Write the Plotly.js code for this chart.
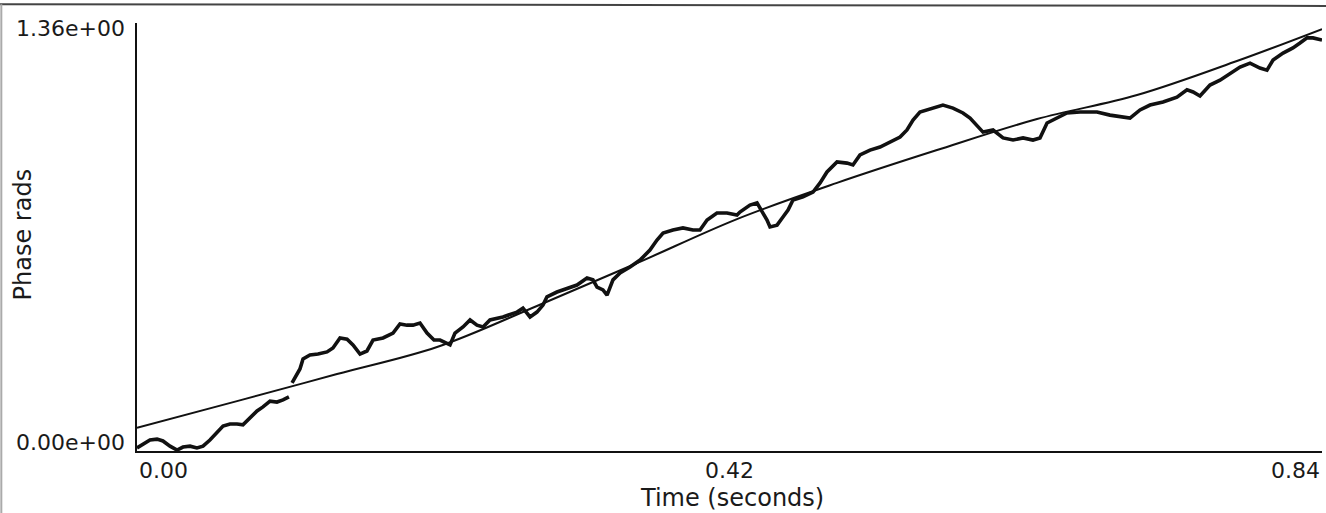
<!DOCTYPE html>
<html>
<head>
<meta charset="utf-8">
<script src="https://cdn.plot.ly/plotly-3.0.1.min.js"></script>
<style>
html,body{margin:0;padding:0;background:#fff;}
#chart{width:1326px;height:513px;}
</style>
</head>
<body>
<div id="chart"></div>
<script>
// Measured phase (rad) vs time (s); null marks the visible break in the trace
const timeSec = [
  0.0000,0.0043,0.0092,0.0142,0.0184,0.0234,0.0284,0.0326,0.0376,0.0425,0.0468,0.0517,0.0567,0.0610,0.0659,0.0709,0.0751,0.0801,0.0851,0.0893,0.0943,0.0992,0.1035,0.1077,
  0.1088,
  0.1099,0.1127,0.1155,0.1177,0.1226,0.1283,0.1347,0.1389,0.1439,0.1489,0.1531,0.1581,0.1630,0.1673,0.1744,0.1815,0.1864,0.1914,0.1956,0.2006,0.2056,0.2105,
  0.2148,0.2219,0.2254,0.2311,0.2361,0.2410,0.2453,0.2502,0.2594,0.2694,0.2736,0.2786,0.2835,0.2878,0.2906,0.2977,0.3048,0.3119,0.3190,0.3232,0.3261,0.3303,0.3332,0.3374,0.3424,0.3495,0.3566,0.3636,0.3686,0.3729,0.3799,0.3870,0.3941,0.3991,0.4041,0.4111,0.4182,0.4253,
  0.4274,0.4345,0.4395,0.4437,0.4466,0.4487,0.4537,0.4579,0.4615,0.4650,0.4721,0.4792,0.4842,0.4891,0.4962,0.5033,0.5075,0.5125,0.5196,0.5267,0.5338,0.5409,0.5458,0.5501,0.5550,0.5600,0.5643,0.5713,0.5784,0.5855,0.5905,0.5954,0.5997,0.6068,0.6139,0.6210,0.6281,0.6351,
  0.6401,0.6451,0.6522,0.6592,0.6685,0.6805,0.6897,0.6989,0.7039,0.7110,0.7181,0.7273,0.7372,0.7443,0.7486,0.7535,0.7606,0.7677,0.7748,0.7819,0.7890,0.7960,0.8010,0.8053,0.8124,0.8194,0.8244,0.8294,0.8336,0.8400
];
const phaseRad = [
  0.010,0.023,0.036,0.039,0.033,0.016,0.003,0.013,0.016,0.010,0.016,0.036,0.063,0.082,0.089,0.089,0.086,0.109,0.132,0.145,0.164,0.161,0.168,0.178,
  null,
  0.224,0.250,0.270,0.303,0.316,0.319,0.326,0.339,0.372,0.368,0.349,0.319,0.329,0.365,0.372,0.388,0.418,0.414,0.414,0.421,0.388,0.365,
  0.365,0.349,0.388,0.408,0.431,0.414,0.408,0.431,0.441,0.457,0.470,0.441,0.457,0.480,0.507,0.523,0.536,0.546,0.569,0.563,0.539,0.530,0.513,0.563,0.586,0.605,0.628,0.661,0.694,0.717,0.727,0.734,0.727,0.727,0.760,0.783,0.783,0.776,
  0.786,0.809,0.816,0.786,0.760,0.737,0.743,0.770,0.793,0.826,0.836,0.852,0.882,0.918,0.951,0.947,0.941,0.974,0.990,1.000,1.016,1.033,1.056,1.089,1.115,1.122,1.128,1.138,1.128,1.112,1.095,1.072,1.049,1.056,1.030,1.023,1.030,1.023,
  1.030,1.079,1.095,1.112,1.115,1.115,1.105,1.099,1.095,1.122,1.138,1.148,1.164,1.188,1.181,1.168,1.204,1.220,1.243,1.263,1.276,1.260,1.253,1.286,1.309,1.326,1.342,1.359,1.359,1.352
];
// Smooth fitted curve
const fitTime  = [0.0000,0.0709,0.1418,0.2127,0.2835,0.3544,0.4253,0.4962,0.5671,0.6380,0.7089,0.7797,0.8400];
const fitPhase = [0.076,0.164,0.253,0.342,0.477,0.618,0.763,0.882,0.990,1.092,1.171,1.283,1.388];

// Axis labels
const yTickVals = [0, 1.36];
const yTickText = ['0.00e+00', '1.36e+00'];
const xTickVals = [0, 0.42, 0.84];
const xTickText = ['0.00', '0.42', '0.84'];
const xTitle = 'Time (seconds)';
const yTitle = 'Phase rads';

const FONT = 'DejaVu Sans, Liberation Sans, Arial, sans-serif';
const INK = '#1a1a1a';

const traces = [
  {x: fitTime, y: fitPhase, mode: 'lines', line: {color: '#111', width: 2, shape: 'spline', smoothing: 1}, hoverinfo: 'skip'},
  {x: timeSec, y: phaseRad, mode: 'lines', line: {color: '#111', width: 3.6}, connectgaps: false, hoverinfo: 'skip'}
];

const annotations = [];
yTickVals.forEach((v, i) => annotations.push({
  xref: 'paper', yref: 'y', x: 0, y: v, xanchor: 'right', yanchor: 'middle',
  xshift: -10, yshift: 9, showarrow: false, text: yTickText[i],
  font: {family: FONT, size: 22, color: INK}
}));
const xAnch = ['left', 'center', 'right'];
xTickVals.forEach((v, i) => annotations.push({
  xref: 'x', yref: 'paper', x: v, y: 0, xanchor: xAnch[i], yanchor: 'middle',
  yshift: -19, showarrow: false, text: xTickText[i],
  font: {family: FONT, size: 22, color: INK}
}));
annotations.push({
  xref: 'paper', yref: 'paper', x: 0.5, y: 0, xanchor: 'center', yanchor: 'middle',
  xshift: 2, yshift: -47, showarrow: false, text: xTitle,
  font: {family: FONT, size: 24, color: INK}
});
annotations.push({
  xref: 'paper', yref: 'paper', x: 0, y: 0.506, xanchor: 'center', yanchor: 'middle',
  xshift: -114, showarrow: false, text: yTitle, textangle: -90,
  font: {family: FONT, size: 24, color: INK}
});

const layout = {
  width: 1326, height: 513,
  margin: {l: 137, r: 4, t: 23, b: 62, pad: 0},
  paper_bgcolor: '#ffffff', plot_bgcolor: '#ffffff',
  showlegend: false,
  xaxis: {range: [0, 0.84], showline: true, linecolor: '#111', linewidth: 2,
          showgrid: false, zeroline: false, showticklabels: false, ticks: '', fixedrange: true},
  yaxis: {range: [0, 1.408], showline: true, linecolor: '#111', linewidth: 2,
          showgrid: false, zeroline: false, showticklabels: false, ticks: '', fixedrange: true},
  annotations: annotations,
  shapes: [
    {type: 'line', xref: 'paper', yref: 'paper', x0: -0.116, x1: 1.004, y0: 1.044, y1: 1.040,
     line: {color: '#444', width: 2}},
    {type: 'line', xref: 'paper', yref: 'paper', x0: -0.1145, x1: -0.1145, y0: 1.044, y1: -0.145,
     line: {color: '#aaa', width: 2}}
  ]
};

Plotly.newPlot('chart', traces, layout, {staticPlot: true, displayModeBar: false});
</script>
</body>
</html>
